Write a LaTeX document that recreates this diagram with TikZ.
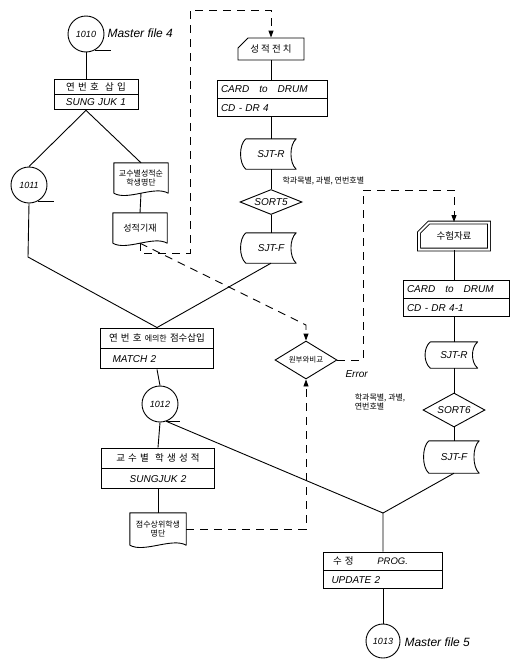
\documentclass[tikz,border=0pt]{standalone}
\usepackage{fontspec}
\setmainfont{Noto Sans CJK KR}
\newfontfamily\latf{Liberation Sans}
\usetikzlibrary{shapes.geometric,shapes.misc,arrows.meta,positioning,calc}

% outline of a document symbol (wavy bottom) round a named node
\newcommand{\docline}[1]{%
  \draw[ln, line join=round] (#1.south west) -- (#1.north west) -- (#1.north east) -- (#1.south east)
    .. controls ($(#1.south)!0.5!(#1.south east)+(0,-8)$) and ($(#1.south west)!0.5!(#1.south)+(0,8)$) .. (#1.south west);}
% outline of a stored data symbol round a named node
\newcommand{\storeline}[1]{%
  \draw[ln, line join=round] (#1.north west) .. controls ($(#1.north west)+(-7,6)$) and ($(#1.south west)+(-7,-6)$) .. (#1.south west)
    -- (#1.south east) .. controls ($(#1.south east)+(-7,-6)$) and ($(#1.north east)+(-7,6)$) .. (#1.north east) -- (#1.north west);}

\begin{document}
\begin{tikzpicture}[x=1pt, y=-1pt,
  ln/.style={line width=0.9pt},
  dsh/.style={line width=0.9pt, dash pattern=on 8pt off 6pt},
  arr/.style={-{Triangle[length=7pt,width=5pt]}},
  kortext/.style={font=\fontsize{9.5}{11}\selectfont},
  keytext/.style={font=\fontsize{8}{9.5}\selectfont},
  lat/.style={font=\latf\itshape\fontsize{10}{11}\selectfont},
  bigl/.style={font=\latf\itshape\fontsize{12}{13}\selectfont},
  tape/.style={circle, draw, ln, minimum size=36pt, inner sep=0pt, font=\latf\itshape\fontsize{9}{10}\selectfont},
  row/.style={draw, ln, minimum height=18pt, inner ysep=0pt, inner xsep=4pt, text width=#1, align=center, kortext},
  doc/.style={draw=none, inner sep=0pt, minimum width=54pt, minimum height=30pt, align=center, keytext},
  store/.style={draw=none, inner sep=0pt, minimum width=50pt, minimum height=30pt, lat},
  card/.style={chamfered rectangle, chamfered rectangle corners=north west, chamfered rectangle xsep=5pt,
    chamfered rectangle ysep=5pt, draw, ln, inner sep=1pt, minimum width=66pt, minimum height=22pt, kortext},
  dec/.style={diamond, draw, ln, aspect=2.5, inner sep=0pt, minimum width=62pt, lat}]
\useasboundingbox (0,0) rectangle (520,659);

% left column
\node[tape] (m4) at (86,34) {1010};
\node[bigl, anchor=west] (m4lbl) at (104,33) {Master file 4};
\node[row=76pt, minimum height=15pt] (ins) at (96,86.5) {연 번 호 \ 삽 입};
\node[row=76pt, minimum height=15pt, lat, below=0pt of ins] (ins2) {SUNG JUK 1};
\node[tape] (f1011) at (29,185) {1011};
\node[doc] (prof) at (141,178) {교수별성적순\\학생명단};
\node[doc, font=\fontsize{9}{10}\selectfont] (entry) at (140,228) {성적기재};
\node[row=105pt, minimum height=20pt] (match) at (157,338) {연 번 호 {\fontsize{8}{9}\selectfont 에의한} 점수삽입};
\node[row=105pt, minimum height=20pt, lat, align=left, below=0pt of match] (match2) {\hspace{8pt}MATCH 2};
\node[tape] (f1012) at (160,404) {1012};
\node[row=105pt, minimum height=20pt] (sung) at (158,458) {교 수 별 \ 학 생 성 적};
\node[row=105pt, minimum height=20pt, lat, below=0pt of sung] (sung2) {SUNGJUK 2};
\node[doc, minimum width=56pt, minimum height=32pt] (top) at (158,529) {점수상위학생\\명단};

% middle column
\node[card] (grade) at (271,49) {성 적 전 치};
\node[row=102pt, lat, align=left] (cd4) at (272,89) {CARD\quad to\quad DRUM};
\node[row=102pt, lat, align=left, below=0pt of cd4] (cd4b) {CD - DR 4};
\node[store] (sjtr1) at (271,154) {SJT-R};
\node[dec, minimum height=25pt] (sort5) at (271,202) {SORT5};
\node[store] (sjtf1) at (271,248) {SJT-F};
\node[keytext, anchor=west] (key5) at (279,181) {학과목별, 과별, 연번호별};
\node[dec, minimum height=38pt, font=\fontsize{7.5}{8.5}\selectfont] (cmp) at (306,360) {원부와비교};
\node[lat, anchor=north west] (err) at (342,367) {Error};

% right column
\node[card, double, double distance=2pt, minimum width=70pt, minimum height=27pt] (exam) at (454,236) {수험자료};
\node[row=98pt, lat, align=left] (cd41) at (456,289) {CARD\quad to\quad DRUM};
\node[row=98pt, lat, align=left, below=0pt of cd41] (cd41b) {CD - DR 4-1};
\node[store, minimum width=47pt, minimum height=26pt] (sjtr2) at (454,355) {SJT-R};
\node[keytext, align=left] (key6) at (380,402) {학과목별, 과별,\\연번호별};
\node[dec, minimum height=34pt] (sort6) at (454,410) {SORT6};
\node[store, minimum height=32pt] (sjtf2) at (454,457) {SJT-F};
\node[row=111pt] (upd) at (383,561) {\makebox[100pt][l]{수 정\hspace{2.5em}{\latf\itshape PROG.}}};
\node[row=111pt, lat, align=left, below=0pt of upd] (upd2) {\hspace{4pt}UPDATE 2};
\node[tape, minimum size=34pt] (f1013) at (383,641) {1013};
\node[bigl, anchor=west] (m5lbl) at (401,642) {Master file 5};

\coordinate (j1) at (28,257);
\coordinate (j2) at (383,513);
\coordinate (lp1) at (190,253);
\coordinate (lp2) at (190,10);
\coordinate (cp1) at (306,325);
\coordinate (er1) at (363,190);

% symbol outlines
\docline{prof}
\docline{entry}
\docline{top}
\storeline{sjtr1}
\storeline{sjtf1}
\storeline{sjtr2}
\storeline{sjtf2}
\draw[ln] (m4.-60) -- ++(16,0);
\draw[ln] (f1011.-60) -- ++(16,0);
\draw[ln] (f1012.-70) -- ++(14,0);

% flow lines
\draw[ln] (m4.south) -- (m4 |- ins.north);
\draw[ln] (ins2.south -| m4) -- (f1011.north);
\draw[ln] (ins2.south -| m4) -- (prof.north);
\draw[ln] (prof.south) -- (entry.north);
\draw[ln] (f1011.south) -- (j1) -- (match.north);
\draw[ln] (sjtf1.south) -- (match.north);
\draw[ln] (match2.south) -- (f1012.north);
\draw[ln] (f1012.south) -- (sung.north);
\draw[ln] (sung2.south) -- (top.north);
\draw[ln] (grade.south) -- (cd4.north -| grade);
\draw[ln] (cd4b.south -| sjtr1) -- (sjtr1.north);
\draw[ln] (sjtr1.south) -- (sort5.north);
\draw[ln] (sort5.south) -- (sjtf1.north);
\draw[ln] (exam.south) -- (cd41.north -| exam);
\draw[ln] (cd41b.south -| sjtr2) -- (sjtr2.north);
\draw[ln] (sjtr2.south) -- (sort6.north);
\draw[ln] (sort6.south) -- (sjtf2.north);
\draw[ln] (sjtf2.south) -- (j2);
\draw[ln] (f1012.-70) -- (j2) -- (upd.north);
\draw[ln] (upd2.south) -- (f1013.north);

% dashed flow
\draw[dsh, arr] (entry.south) |- (lp1) -- (lp2) -| (grade.north);
\draw[dsh, arr] (entry.south) -- (cp1) -- (cmp.north);
\draw[dsh, arr] (cmp.east) -| (er1) -| (exam.north);
\draw[dsh, arr] (top.east) -| (cmp.south);
\end{tikzpicture}
\end{document}
